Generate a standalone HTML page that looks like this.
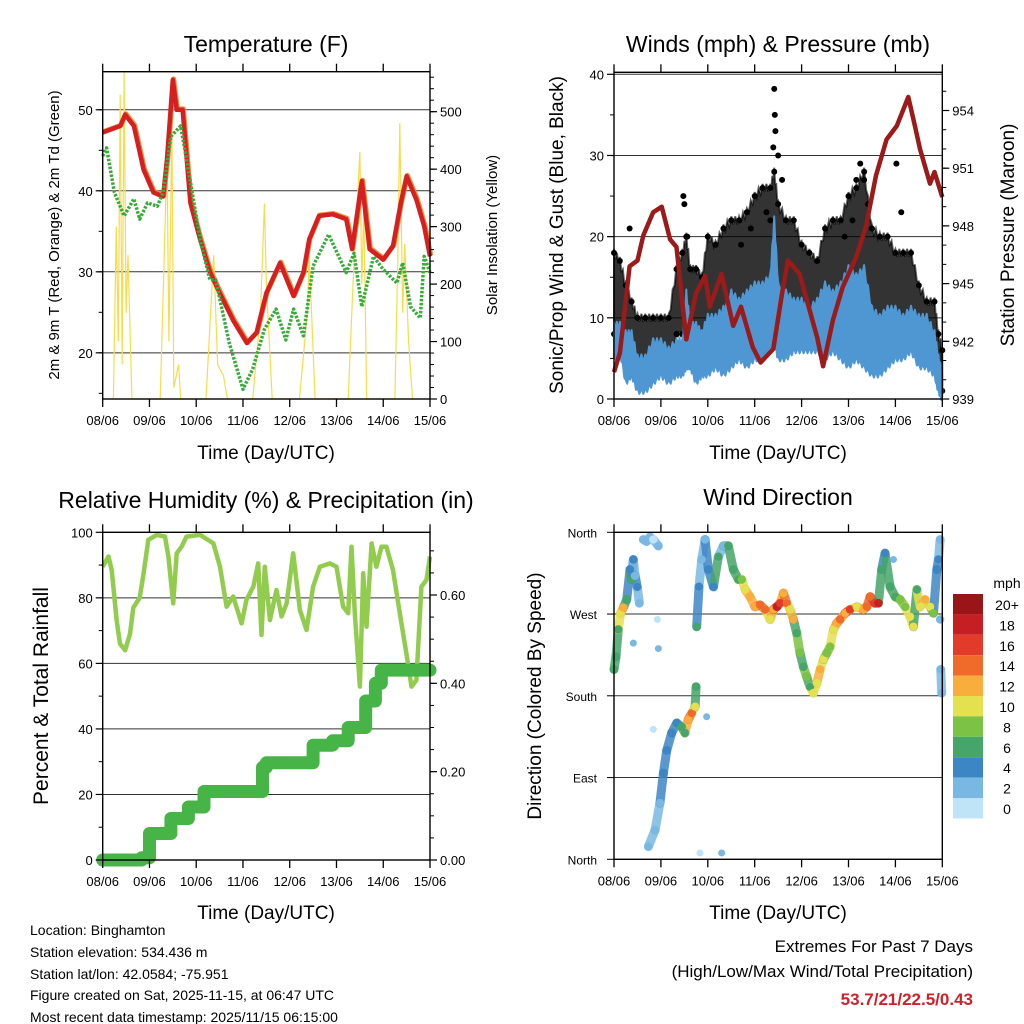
<!DOCTYPE html>
<html><head><meta charset="utf-8"><style>
body{margin:0;background:#fff}
svg{display:block;font-family:"Liberation Sans",Arial,sans-serif}
</style></head><body>
<svg id="s" width="1024" height="1024" viewBox="0 0 1024 1024" xmlns="http://www.w3.org/2000/svg">
<rect width="1024" height="1024" fill="#fff"/>
<text x="266" y="52" font-size="23" text-anchor="middle">Temperature (F)</text>
<text x="778" y="52" font-size="23" text-anchor="middle">Winds (mph) &amp; Pressure (mb)</text>
<text x="266" y="508" font-size="23" text-anchor="middle">Relative Humidity (%) &amp; Precipitation (in)</text>
<text x="778" y="505" font-size="23" text-anchor="middle">Wind Direction</text>
<text transform="translate(59,235) rotate(-90)" font-size="15" text-anchor="middle">2m &amp; 9m T (Red, Orange) &amp; 2m Td (Green)</text>
<text transform="translate(497,235) rotate(-90)" font-size="15" text-anchor="middle">Solar Insolation (Yellow)</text>
<text transform="translate(563,235) rotate(-90)" font-size="19" text-anchor="middle">Sonic/Prop Wind &amp; Gust (Blue, Black)</text>
<text transform="translate(1014,235) rotate(-90)" font-size="19" text-anchor="middle">Station Pressure (Maroon)</text>
<text transform="translate(48,696) rotate(-90)" font-size="21" text-anchor="middle">Percent &amp; Total Rainfall</text>
<text transform="translate(541,696) rotate(-90)" font-size="19" text-anchor="middle">Direction (Colored By Speed)</text>
<text x="266" y="459" font-size="19" text-anchor="middle">Time (Day/UTC)</text>
<text x="778" y="459" font-size="19" text-anchor="middle">Time (Day/UTC)</text>
<text x="266" y="919" font-size="19" text-anchor="middle">Time (Day/UTC)</text>
<text x="778" y="919" font-size="19" text-anchor="middle">Time (Day/UTC)</text>
<g font-size="14">
<text x="30" y="935">Location: Binghamton</text>
<text x="30" y="957">Station elevation: 534.436 m</text>
<text x="30" y="979">Station lat/lon: 42.0584; -75.951</text>
<text x="30" y="1000">Figure created on Sat, 2025-11-15, at 06:47 UTC</text>
<text x="30" y="1022">Most recent data timestamp: 2025/11/15 06:15:00</text>
</g>
<g font-size="17" text-anchor="end">
<text x="973" y="952">Extremes For Past 7 Days</text>
<text x="973" y="977">(High/Low/Max Wind/Total Precipitation)</text>
<text x="973" y="1005" font-weight="bold" fill="#d0202a">53.7/21/22.5/0.43</text>
</g>
</svg>
<script>
// ---------- data ----------
const dayLabels=["08/06","09/06","10/06","11/06","12/06","13/06","14/06","15/06"];
const tempHours=[0,9,11.5,16,21,26,31,33,36,38,41,45,50,55,60,67,74,79,84,91,98,103,106,111,118,125,128,133,137,144,149,153,156,161,165,168];
const tempValues=[47.2,48,49.4,48,42.6,39.8,39.3,43.9,53.7,50,50,38.5,34,30,27.4,24,21.2,22.5,27.4,31.1,27,29.9,34,36.9,37.1,36.5,32.8,41.2,32.8,31.5,33.2,38.5,41.8,38.9,35.6,31.9];
const dewHours=[0,2,6,11,16,19,23,28,31,35,40,43,50,55,58,65,72,77,83,89,94,98,103,108,116,125,129,133,139,144,151,154,158,163,165,168];
const dewValues=[44.3,45.3,39.8,36.9,39,36.5,38.5,38.1,39.8,46.7,48,43.9,34,29,29,21.2,15.5,18,22.9,25.4,21.6,25.4,22.1,30.7,34.6,29.9,32.3,25.7,31.9,30.3,28.6,31.1,25.7,24.3,31.9,29.9];
const solarHours=[5.5,7,8,9,10,11,12,13,15,29.5,33,34,35.5,36.5,39,40,53,57,59,62,64,77,81,83,84,87,101,105,106,109,126,128.5,132,133,134,135.5,150,151.5,152.5,154,155,157,159];
const solarValues=[0,300,100,530,60,570,150,250,0,0,420,100,470,20,60,0,0,250,60,40,0,0,150,340,200,0,0,150,250,0,0,200,430,200,330,0,0,250,480,150,270,100,0];
const pressHours=[0,3,8,12,15,20,24.4,28.7,32,37,42,46.6,49,55,61,65,71,75,81.5,86,89,95,104,107,112,117,124,129,134,139.5,144.7,150.6,154,156.6,161.7,164,168];
const pressValues=[940.4,941.4,945.9,946.2,947.5,948.7,949,947.3,946.9,942.1,944.5,945.4,943.8,945.5,942.8,943.8,941.7,940.9,941.6,944.5,946.2,945.5,942.2,940.7,943.1,944.8,946.4,948,950.6,952.5,953.2,954.7,953.2,952,950.2,950.8,949.5];
const windHours=[0,3,6,9,12,16,20,24,28,32,35,37,39,42,45,48,52,56,60,64,68,72,76,80,82,84,88,92,96,100,104,108,112,116,120,124,128,132,136,140,144,148,152,156,160,164,166,168];
const windLo=[5,6,2,3,1,1,2,3,2,3,3,4,4,2,3,3,4,3,4,5,4,5,5,6,7,5,5,6,6,6,6,5,6,5,4,5,4,3,3,4,5,5,6,4,4,3,1,0];
const windHi=[9,9,8,8,5,5,7,7,6,7,7,13,9,9,8,10,10,11,13,12,13,14,14,15,22,14,13,12,12,11,12,14,13,14,16,15,16,11,10,11,11,10,11,10,10,8,5,3];
const gustLo=[8,8,6,5,4,4,4,4,3,8,8,6,8,6,6,8,8,10,10,10,11,12,12,13,14,12,10,10,8,7,7,8,9,9,10,11,10,9,8,8,8,8,9,6,5,4,2,1];
const gustHi=[18,17,14,12,10,10,10,10,10,16,18,20,16,16,15,20,19,21,22,22,23,25,26,26,28,24,22,22,19,18,17,21,22,22,25,26,28,21,20,20,18,18,18,14,12,12,8,6];
const gustOutHours=[8,35.5,36,37.5,65,70,78,80,81.5,82,82.3,82.6,84,86,118,122,124,126,128,130,144.5,147];
const gustOutValues=[21,25,24,20,19,21,23,22,31,38.2,35,33,30,27,20,22,27,29,27,24,29,23];
const rainHours=[0,20,24,35,44,52,80,82,84,96,108,118,126,132,135,137,140,143,168];
const rainValues=[0,0.005,0.06,0.094,0.12,0.155,0.155,0.21,0.22,0.22,0.26,0.27,0.30,0.30,0.36,0.36,0.40,0.43,0.43];
const rhHours=[0,3,4.6,7.2,8.9,11.5,14,15.7,19,21,23.4,27.7,32,33.7,36.2,38,40.5,43,50,56.8,60.2,63.6,67,71.3,73.8,77.3,79.8,81.5,83.2,85.8,89.2,91.8,94.4,97.8,101.2,104.6,108,111.5,116.6,120,123.4,126,127.7,129.4,132,133.7,135.4,138,140.5,143.1,145.6,149,152.5,155.9,158.5,161,163.6,166.2,168];
const rhValues=[89.5,92.6,88.5,73,66,64,69,77,80,87.5,97.7,99.2,98.7,92.6,78.3,93.6,95.6,98.7,99.2,96.6,89.5,77.3,80.4,72.2,79.4,83.4,90.5,68.7,89.5,73.2,82.4,74.3,78.3,93.6,76.3,70.2,83.4,89.5,90.5,89.5,77.3,75.3,95.6,75.3,52.9,87.5,71.2,96.6,89.5,95.6,95.6,88.5,75.3,63,52.9,54.9,83.4,85.5,92.6];
const dirHours=[0,1,2.2,3.4,4.8,6.5,8.2,9,9.9,10.8,11.9,13,15,16.7,18.4,20.1,22.7,17.6,21,23.5,25.3,27,29.5,32.1,34.6,36.3,38,39.8,41.5,42,42.3,43.5,44.9,46.6,48.3,50.9,53.4,56,58.5,61.1,63.7,65.4,67.1,69.6,72.2,74.7,77.3,79.9,81.6,83.3,85,86.7,88.4,90.1,91.8,93.5,95.2,96.9,98.6,100.3,102,103.8,105.5,107.2,108.9,110.6,112.3,114,115.7,118.3,120.8,124.2,127.6,129.4,131.1,133.6,135.3,137,138.7,141.3,143.9,146.4,149,151.5,153.2,155,156.7,159.2,161.8,163.5,165.2,166,166.9,166.9,167.2,167.7];
const dirValues=[209,223,253,271,277,286,319,308,330,312,300,282,352,350,355,352,345,14,32,62,95,120,139,150,146,139,154,161,168,190,256,300,330,352,319,300,333,345,345,319,308,308,297,289,278,280,275,264,275,278,282,293,282,275,264,249,227,212,201,190,183,194,209,220,227,234,253,260,264,271,275,278,275,278,289,282,282,319,337,300,289,286,278,267,256,297,278,286,278,271,319,330,352,264,209,183,10];
const dirSpeeds=[7,6,7,10,12,6,4,6,4,3,4,3,2,2,2,1,3,3,3,3,4,4,4,4,6,6,12,14,10,6,6,4,3,3,4,4,6,3,7,7,6,8,10,12,12,14,14,10,12,18,16,12,14,10,12,6,8,6,8,6,10,10,12,10,8,8,10,12,14,12,16,10,12,14,14,16,18,6,4,6,6,8,8,10,10,6,10,12,10,8,4,4,3,2,2,2,2];
const dirOutHours=[9.9,22.7,22.2,20.1,47.4,143,44,55.1];
const dirOutValues=[238,232,264,143,157,330,7,7];
const dirOutSpeeds=[3,2,1,1,2,3,1,2];
const speedLevels=["0","2","4","6","8","10","12","14","16","18","20+"];
const speedColors=["#bfe3f7","#7ab8e4","#3d86c6","#46a56a","#7cc244","#e3e150","#f9ad3d","#f06a2a","#e23b2a","#c51f24","#9a1518"];

// ---------- helpers ----------
const NS="http://www.w3.org/2000/svg";
const svg=document.getElementById('s');
function mk(tag,attrs,parent){const e=document.createElementNS(NS,tag);for(const k in attrs)e.setAttribute(k,attrs[k]);(parent||svg).appendChild(e);return e;}
function lin(d0,d1,r0,r1){return v=>r0+(v-d0)*(r1-r0)/(d1-d0);}
function pts(xs,ys,fx,fy){return xs.map((h,i)=>fx(h).toFixed(1)+","+fy(ys[i]).toFixed(1)).join(" ");}
function jag(xs,ys,fx,fy,amp){let s=[];for(let i=0;i<xs.length-1;i++){const n=4;for(let k=0;k<n;k++){const t=k/n;const h=xs[i]+(xs[i+1]-xs[i])*t;const v=ys[i]+(ys[i+1]-ys[i])*t;const o=(k%2?amp:-amp);s.push(fx(h).toFixed(1)+","+(fy(v)+o).toFixed(1));}}s.push(fx(xs[xs.length-1]).toFixed(1)+","+fy(ys[ys.length-1]).toFixed(1));return s.join(" ");}
function stepPts(xs,ys,fx,fy){let s=[];for(let i=0;i<xs.length;i++){if(i>0)s.push(fx(xs[i]).toFixed(1)+","+fy(ys[i-1]).toFixed(1));s.push(fx(xs[i]).toFixed(1)+","+fy(ys[i]).toFixed(1));}return s.join(" ");}
function colorFor(v){let i=Math.min(10,Math.max(0,Math.floor(v/2)));return speedColors[i];}

function frame(P,name){
  const g=mk('g',{});
  
  
  for(let d=0;d<8;d++){
    const x=P.fx(d*24);
    const t1=mk('line',{x1:x,x2:x,y1:P.y1,y2:P.y1+8,stroke:'#000','stroke-width':1.3},g);
    
    
    const t2=mk('line',{x1:x,x2:x,y1:P.y0,y2:P.y0-8,stroke:'#000','stroke-width':1.3},g);
    
    
    const tl=mk('text',{x:x,y:P.y1+26,'font-size':13,'text-anchor':'middle'},g);
    tl.textContent=dayLabels[d];
    
    
  }
  return g;
}
function border(P){
  const r=mk('rect',{x:P.x0,y:P.y0,width:P.x1-P.x0,height:P.y1-P.y0,fill:'none',stroke:'#000','stroke-width':1.4});
  
  
}
function grid(P,vals,fy){
  vals.forEach(v=>{const y=fy(v);const l=mk('line',{x1:P.x0,x2:P.x1,y1:y,y2:y,stroke:'#333','stroke-width':1});
  
  });
}
function yTicks(P,vals,labels,fy,side,minor){
  const x=side==='l'?P.x0:P.x1, dir=side==='l'?-1:1;
  minor.forEach(v=>{const y=fy(v);const l=mk('line',{x1:x,x2:x+dir*4,y1:y,y2:y,stroke:'#000','stroke-width':1});
  
  });
  vals.forEach((v,i)=>{const y=fy(v);const l=mk('line',{x1:x,x2:x+dir*7,y1:y,y2:y,stroke:'#000','stroke-width':1.2});
  
  
  const t=mk('text',{x:x+dir*10,y:y+5,'font-size':13,'text-anchor':side==='l'?'end':'start'});
  t.textContent=labels[i];
  
  });
}
function range(a,b,s){let r=[];for(let v=a;v<=b+1e-9;v+=s)r.push(+v.toFixed(4));return r;}

// ---------- Temperature ----------
const PT={x0:102.7,x1:430,y0:71.7,y1:399};
PT.fx=lin(0,168,PT.x0,PT.x1);
const yT=lin(14.3,54.7,399,71.7), yS=lin(0,569.6,399,71.7);
grid(PT,[20,30,40,50],yT);
const sol=mk('polyline',{points:pts(solarHours,solarValues,PT.fx,yS),fill:'none',stroke:'#f7dc4a','stroke-width':1.2});


const tOr=mk('polyline',{points:pts(tempHours,tempValues,PT.fx,yT),fill:'none',stroke:'#f08a3a','stroke-width':5,'stroke-linejoin':'round',transform:'translate(0.8,-0.8)'});


const tRed=mk('polyline',{points:pts(tempHours,tempValues,PT.fx,yT),fill:'none',stroke:'#d42020','stroke-width':4.5,'stroke-linejoin':'round'});


const dew=mk('polyline',{points:pts(dewHours,dewValues,PT.fx,yT),fill:'none',stroke:'#3aaa3a','stroke-width':3.5,'stroke-dasharray':'2.5 1.5','stroke-linejoin':'round'});


border(PT);frame(PT,'temperature');
yTicks(PT,[20,30,40,50],["20","30","40","50"],yT,'l',range(15,54,5));
yTicks(PT,[0,100,200,300,400,500],["0","100","200","300","400","500"],yS,'r',range(0,560,20));

// ---------- Winds ----------
const PW={x0:614,x1:942.3,y0:72.3,y1:399};
PW.fx=lin(0,168,PW.x0,PW.x1);
const yW=lin(0,40,399,74.3), yP=lin(939,954,399,110.5);
grid(PW,[10,20,30,40],yW);
const gustBand=mk('polygon',{points:jag(windHours,gustHi,PW.fx,yW,4)+" "+jag(windHours.slice().reverse(),gustLo.slice().reverse(),PW.fx,yW,3),fill:'#000','fill-opacity':0.8,stroke:'#000','stroke-width':2,'stroke-opacity':0.6});


windHours.forEach((h,i)=>{[gustHi[i],gustLo[i]].forEach(v=>{const c=mk('circle',{cx:PW.fx(h),cy:yW(v),r:3,fill:'#000'});

});});
gustOutHours.forEach((h,i)=>{const c=mk('circle',{cx:PW.fx(h),cy:yW(gustOutValues[i]),r:3,fill:'#000'});

});
const windBand=mk('polygon',{points:jag(windHours,windHi,PW.fx,yW,4)+" "+jag(windHours.slice().reverse(),windLo.slice().reverse(),PW.fx,yW,3),fill:'#4f97d3',stroke:'#4f97d3','stroke-width':2,'stroke-linejoin':'round'});


const pr=mk('polyline',{points:pts(pressHours,pressValues,PW.fx,yP),fill:'none',stroke:'#9b1a1a','stroke-width':4.5,'stroke-linejoin':'round'});


border(PW);frame(PW,'winds');
yTicks(PW,[0,10,20,30,40],["0","10","20","30","40"],yW,'l',range(5,35,10));
yTicks(PW,[939,942,945,948,951,954],["939","942","945","948","951","954"],yP,'r',range(939,955,1));

// ---------- Humidity ----------
const PR={x0:102.7,x1:430,y0:532.3,y1:860};
PR.fx=lin(0,168,PR.x0,PR.x1);
const yRH=lin(0,100,860,532.3), yRain=lin(0,0.6,860,595);
grid(PR,[20,40,60,80],yRH);
const rh=mk('polyline',{points:pts(rhHours,rhValues,PR.fx,yRH),fill:'none',stroke:'#92cc4e','stroke-width':4.5,'stroke-linejoin':'round'});


const rain=mk('polyline',{points:stepPts(rainHours,rainValues,PR.fx,yRain),fill:'none',stroke:'#46b446','stroke-width':13,'stroke-linejoin':'round','stroke-linecap':'round'});


border(PR);frame(PR,'humidity');
yTicks(PR,[0,20,40,60,80,100],["0","20","40","60","80","100"],yRH,'l',range(10,90,20));
yTicks(PR,[0,0.2,0.4,0.6],["0.00","0.20","0.40","0.60"],yRain,'r',range(0.05,0.7,0.05));

// ---------- Wind direction ----------
const PD={x0:614,x1:942.3,y0:532.3,y1:859.3};
PD.fx=lin(0,168,PD.x0,PD.x1);
const yD=lin(0,360,859.3,532.3);
grid(PD,[90,180,270],yD);
for(let i=1;i<dirHours.length;i++){
  if(Math.abs(dirValues[i]-dirValues[i-1])>50||Math.abs(dirHours[i]-dirHours[i-1])>6)continue;
  const l=mk('line',{x1:PD.fx(dirHours[i-1]),y1:yD(dirValues[i-1]),x2:PD.fx(dirHours[i]),y2:yD(dirValues[i]),stroke:colorFor(dirSpeeds[i]),'stroke-width':9,'stroke-linecap':'round','stroke-opacity':0.85});
  
  
}
dirHours.forEach((h,i)=>{const c=mk('circle',{cx:PD.fx(h),cy:yD(dirValues[i]),r:4.2,fill:colorFor(dirSpeeds[i])});

});
dirOutHours.forEach((h,i)=>{const c=mk('circle',{cx:PD.fx(h),cy:yD(dirOutValues[i]),r:3.5,fill:colorFor(dirOutSpeeds[i])});

});
border(PD);frame(PD,'direction');
["North","East","South","West","North"].forEach((n,i)=>{const y=yD(i*90);
const t=mk('text',{x:597,y:y+5,'font-size':12,'text-anchor':'end'});t.textContent=n;


const l=mk('line',{x1:PD.x0-7,x2:PD.x0,y1:y,y2:y,stroke:'#000'});

});

// colorbar
const cbTop=594, cbH=20.4;
const mph=mk('text',{x:1007,y:588,'font-size':14,'text-anchor':'middle'});mph.textContent="mph";


speedLevels.forEach((lab,i)=>{const k=10-i;const y=cbTop+i*cbH;
const r=mk('rect',{x:953,y:y,width:30,height:cbH,fill:speedColors[k]});


const t=mk('text',{x:1007,y:y+16,'font-size':14,'text-anchor':'middle'});t.textContent=speedLevels[k];

});
</script>
</body></html>
